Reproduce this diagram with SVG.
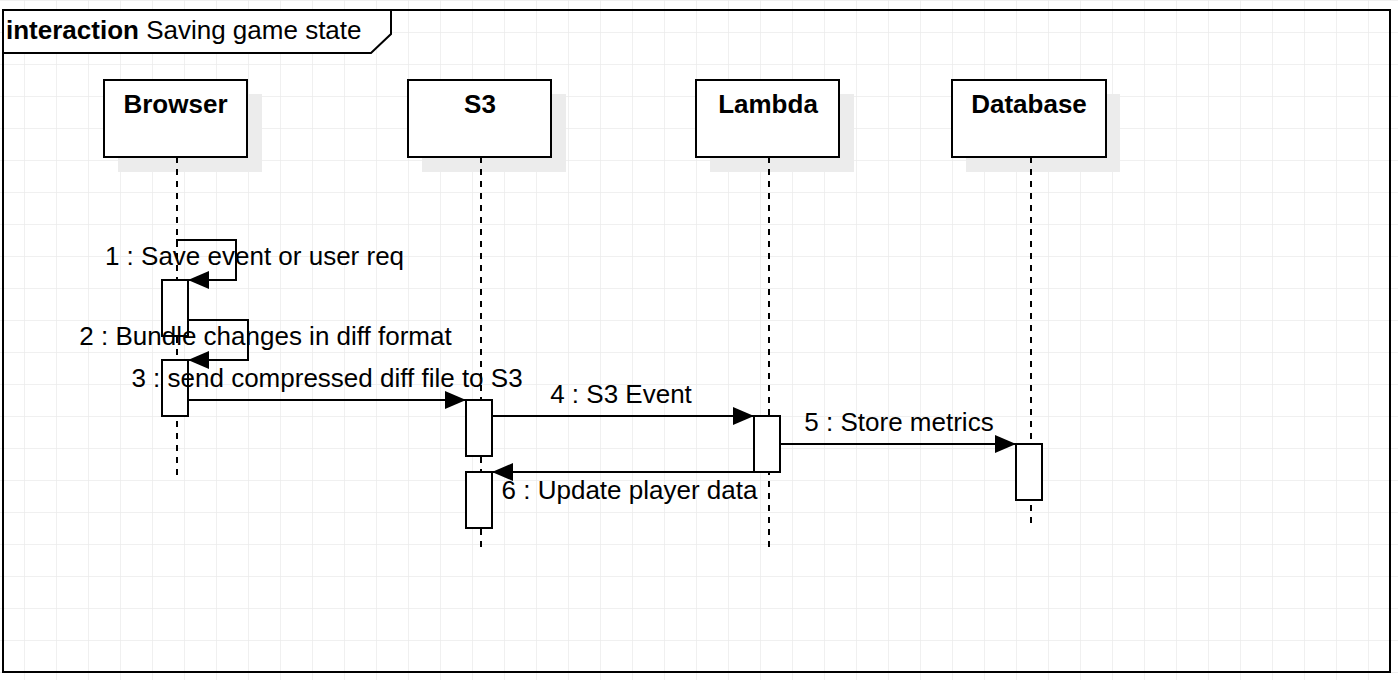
<svg xmlns="http://www.w3.org/2000/svg" width="1398" height="680" viewBox="0 0 1398 680">
<style>
.txt{font-family:"Liberation Sans",Arial,sans-serif;font-size:26px;fill:#000}
.hdr{font-family:"Liberation Sans",Arial,sans-serif;font-size:26px;font-weight:bold;fill:#000}
.box{fill:#fff;stroke:#000;stroke-width:2}
.shadow{fill:#ececec;stroke:none}
.life{stroke:#000;stroke-width:2;stroke-dasharray:6 6;fill:none}
.act{fill:#fff;stroke:#000;stroke-width:2}
.msg{stroke:#000;stroke-width:2;fill:none}
</style>
<defs>
<pattern id="grid" x="24" y="0" width="32" height="32" patternUnits="userSpaceOnUse">
<path d="M0 0H32M0 0V32" stroke="#ebebeb" stroke-width="1.5" fill="none"/>
</pattern>
<marker id="arr" viewBox="0 0 21 18" refX="21" refY="9" markerWidth="21" markerHeight="18" markerUnits="userSpaceOnUse" orient="auto">
<path d="M0 0L21 9L0 18Z" fill="#000"/>
</marker>
</defs>
<rect width="1398" height="680" fill="#fff"/>
<rect width="1398" height="680" fill="url(#grid)"/>
<g id="frame">
<rect x="3" y="10" width="1387" height="662" fill="none" stroke="#000" stroke-width="2"/>
<path d="M3 10H391V34L371 53H3Z" fill="#fff" stroke="#000" stroke-width="2"/>
<text x="6" y="39" class="txt"><tspan font-weight="bold">interaction</tspan> Saving game state</text>
</g>
<g id="lifeline-browser">
<rect class="shadow" x="118" y="94" width="144" height="78"/>
<rect class="box" x="104" y="80" width="143" height="77"/>
<text class="hdr" x="175.5" y="113" text-anchor="middle">Browser</text>
<line class="life" x1="177" y1="157" x2="177" y2="478"/>
</g>
<g id="lifeline-s3">
<rect class="shadow" x="422" y="94" width="144" height="78"/>
<rect class="box" x="408" y="80" width="143" height="77"/>
<text class="hdr" x="480" y="113" text-anchor="middle">S3</text>
<line class="life" x1="481" y1="157" x2="481" y2="550"/>
</g>
<g id="lifeline-lambda">
<rect class="shadow" x="710" y="94" width="144" height="78"/>
<rect class="box" x="696" y="80" width="143" height="77"/>
<text class="hdr" x="768" y="113" text-anchor="middle">Lambda</text>
<line class="life" x1="769" y1="157" x2="769" y2="550"/>
</g>
<g id="lifeline-database">
<rect class="shadow" x="966" y="94" width="154" height="78"/>
<rect class="box" x="952" y="80" width="154" height="77"/>
<text class="hdr" x="1029" y="113" text-anchor="middle">Database</text>
<line class="life" x1="1031" y1="157" x2="1031" y2="527"/>
</g>
<g id="activations">
<rect class="act" x="162" y="280" width="26" height="56"/>
<rect class="act" x="162" y="360" width="26" height="56"/>
<rect class="act" x="466" y="400" width="26" height="56"/>
<rect class="act" x="466" y="472" width="26" height="56"/>
<rect class="act" x="754" y="416" width="26" height="56"/>
<rect class="act" x="1016" y="444" width="26" height="56"/>
</g>
<g id="connectors">
<path class="msg" d="M176 240H236V280H188" marker-end="url(#arr)"/>
<path class="msg" d="M188 320H248V360H188" marker-end="url(#arr)"/>
<path class="msg" d="M188 400H466" marker-end="url(#arr)"/>
<path class="msg" d="M492 416H754" marker-end="url(#arr)"/>
<path class="msg" d="M780 444H1016" marker-end="url(#arr)"/>
<path class="msg" d="M754 472H492" marker-end="url(#arr)"/>
<text class="txt" x="254.5" y="265" text-anchor="middle">1 : Save event or user req</text>
<text class="txt" x="265.5" y="345" text-anchor="middle">2 : Bundle changes in diff format</text>
<text class="txt" x="327" y="387" text-anchor="middle">3 : send compressed diff file to S3</text>
<text class="txt" x="621" y="403" text-anchor="middle">4 : S3 Event</text>
<text class="txt" x="899" y="431" text-anchor="middle">5 : Store metrics</text>
<text class="txt" x="629.5" y="499" text-anchor="middle">6 : Update player data</text>
</g>
</svg>
